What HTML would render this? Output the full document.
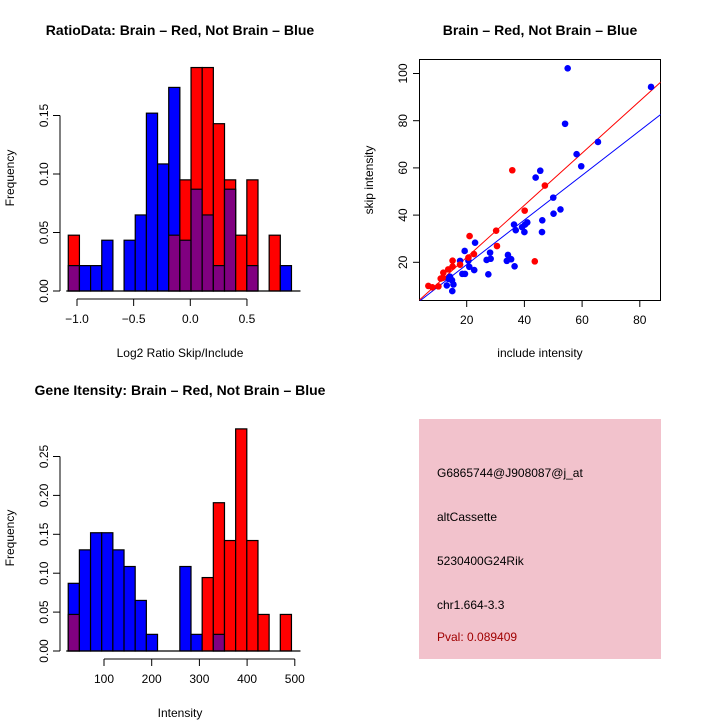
<!DOCTYPE html>
<html><head><meta charset="utf-8"><style>
body{margin:0;background:#fff}
svg{display:block;font-family:"Liberation Sans",sans-serif}
</style></head><body>
<svg id="s" width="720" height="720" viewBox="0 0 720 720">
<rect width="720" height="720" fill="#fff"/>
<text x="180" y="35" font-size="14" font-weight="bold" text-anchor="middle">RatioData: Brain – Red, Not Brain – Blue</text>
<text x="540" y="35" font-size="14" font-weight="bold" text-anchor="middle">Brain – Red, Not Brain – Blue</text>
<text x="180" y="395" font-size="14" font-weight="bold" text-anchor="middle">Gene Itensity: Brain – Red, Not Brain – Blue</text>
<text x="180" y="357" font-size="12" text-anchor="middle">Log2 Ratio Skip/Include</text>
<text x="14" y="178" font-size="12" text-anchor="middle" transform="rotate(-90 14 178)">Frequency</text>
<text x="180" y="717" font-size="12" text-anchor="middle">Intensity</text>
<text x="14" y="538" font-size="12" text-anchor="middle" transform="rotate(-90 14 538)">Frequency</text>
<text x="540" y="357" font-size="12" text-anchor="middle">include intensity</text>
<text x="373" y="180" font-size="12" text-anchor="middle" transform="rotate(-90 373 180)">skip intensity</text>
<g>
<rect x="419" y="419" width="242" height="240" fill="#f2c2cc"/>
<g font-size="12">
<text x="437" y="477">G6865744@J908087@j_at</text>
<text x="437" y="521">altCassette</text>
<text x="437" y="565">5230400G24Rik</text>
<text x="437" y="609">chr1.664-3.3</text>
<text x="437" y="641" fill="#a00000">Pval: 0.089409</text>
</g></g>
</svg>
<script>
// Ratio histogram data
const ratioBreakStart = -1.077, ratioBinW = 0.0985;
const ratioRed  = [0.0477,0,0,0,0,0,0,0,0,0.0477,0.095,0.191,0.191,0.143,0.095,0.0477,0.095,0,0.0477,0];
const ratioBlue = [0.0217,0.0217,0.0217,0.0434,0,0.0434,0.065,0.152,0.1086,0.174,0.0434,0.087,0.065,0.0217,0.087,0,0.0217,0,0,0.0217];
const ratioXTicks = [-1.0,-0.5,0.0,0.5];
const ratioXLabels = ["−1.0","−0.5","0.0","0.5"];
const ratioYTicks = [0,0.05,0.10,0.15];
const ratioYLabels = ["0.00","0.05","0.10","0.15"];
// Intensity histogram data
const intBreakStart = 25, intBinW = 23.4;
const intRed  = [0.047,0,0,0,0,0,0,0,0,0,0,0,0.0944,0.1906,0.142,0.2855,0.142,0.047,0,0.047];
const intBlue = [0.087,0.130,0.152,0.152,0.130,0.1086,0.065,0.0214,0,0,0.1086,0.0214,0,0.0214,0,0,0,0,0,0];
const intXTicks = [100,200,300,400,500];
const intYTicks = [0,0.05,0.10,0.15,0.20,0.25];
const intYLabels = ["0.00","0.05","0.10","0.15","0.20","0.25"];
// Scatter data
const blueX = [55.0,83.9,54.1,65.5,58.1,59.7,45.5,43.9,50.0,52.5,50.1,46.2,46.1,41.0,40.2,39.2,40.0,36.4,37.0,22.9,19.3,17.7,20.6,20.9,22.6,18.5,19.4,28.1,28.3,26.9,27.5,34.3,33.9,35.4,36.6,14.2,13.1,15.4,14.9,15.0,13.6];
const blueY = [102.2,94.3,78.7,71.0,65.8,60.7,58.8,55.9,47.4,42.4,40.6,37.8,32.8,36.9,36.0,34.9,32.8,36.0,33.6,28.3,24.8,20.6,20.7,18.1,16.7,15.1,15.1,24.1,21.5,21.0,14.9,23.1,20.6,21.3,18.3,13.9,10.2,10.6,12.4,7.8,13.0];
const redX = [35.8,47.1,40.1,30.2,21.0,30.5,22.5,20.6,43.6,17.7,15.1,15.1,13.6,11.9,11.7,11.0,10.2,8.1,6.7];
const redY = [59.0,52.5,41.9,33.4,31.1,26.9,23.5,22.0,20.4,19.0,20.7,18.2,17.0,15.6,13.4,13.1,9.8,9.4,10.0];
const scXTicks = [20,40,60,80];
const scYTicks = [20,40,60,80,100];
const redFit = [0.03,1.104];
const blueFit = [0.1,0.946];

const svg = document.getElementById('s');
const NS = 'http://www.w3.org/2000/svg';
function mk(tag, attrs, parent){const e=document.createElementNS(NS,tag);for(const k in attrs)e.setAttribute(k,attrs[k]);(parent||svg).appendChild(e);return e;}

function hist(opts){
  const g = mk('g',{});
  
  
  const xs = v => opts.x0 + (v - opts.xv0) * opts.xk;
  const ys = v => opts.y0 - v * opts.yk;
  for(let i=0;i<opts.red.length;i++){
    const a=opts.start+i*opts.w, b=a+opts.w, r=opts.red[i], bl=opts.blue[i];
    const x=xs(a), wd=xs(b)-xs(a);
    const hi=Math.max(r,bl), lo=Math.min(r,bl);
    if(hi>0){
      const rc = mk('rect',{x:x,y:ys(hi),width:wd,height:ys(0)-ys(hi),fill:r>=bl?'#ff0000':'#0000ff',stroke:'#000','stroke-width':1.2},g);
      
      
    }
    if(lo>0){
      const pc = mk('rect',{x:x,y:ys(lo),width:wd,height:ys(0)-ys(lo),fill:'#800080',stroke:'#000','stroke-width':1.2},g);
      
      
    }
  }
  // y axis
  const yt=opts.yTicks;
  mk('line',{x1:opts.yAxisX,x2:opts.yAxisX,y1:ys(yt[0]),y2:ys(yt[yt.length-1]),stroke:'#000'},g);
  yt.forEach((t,i)=>{const y=ys(t);mk('line',{x1:opts.yAxisX-7,x2:opts.yAxisX,y1:y,y2:y,stroke:'#000'},g);
    const tx=mk('text',{x:opts.yAxisX-12,y:y,'font-size':12,'text-anchor':'middle',transform:`rotate(-90 ${opts.yAxisX-12} ${y})`},g);tx.textContent=opts.yLabels[i];
    
    });
  // x axis
  const xt=opts.xTicks;
  mk('line',{x1:xs(xt[0]),x2:xs(xt[xt.length-1]),y1:opts.xAxisY,y2:opts.xAxisY,stroke:'#000'},g);
  xt.forEach((t,i)=>{const x=xs(t);mk('line',{x1:x,x2:x,y1:opts.xAxisY,y2:opts.xAxisY+7,stroke:'#000'},g);
    const tx=mk('text',{x:x,y:opts.xAxisY+24,'font-size':12,'text-anchor':'middle'},g);tx.textContent=opts.xLabels[i];
    
    });
  mk('line',{x1:xs(opts.start)-2,x2:xs(opts.start+opts.red.length*opts.w)+9,y1:ys(0),y2:ys(0),stroke:'#000','stroke-width':1.3},g);
}
hist({name:'ratio-histogram',red:ratioRed,blue:ratioBlue,start:ratioBreakStart,w:ratioBinW,x0:190.3,xv0:0,xk:113.3,y0:291,yk:1170,
  yTicks:ratioYTicks,yLabels:ratioYLabels,xTicks:ratioXTicks,xLabels:ratioXLabels,yAxisX:60,xAxisY:299});
hist({name:'intensity-histogram',red:intRed,blue:intBlue,start:intBreakStart,w:intBinW,x0:104,xv0:100,xk:0.477,y0:651,yk:778,
  yTicks:intYTicks,yLabels:intYLabels,xTicks:intXTicks,xLabels:intXTicks.map(String),yAxisX:60,xAxisY:659});

// scatter
const sg = mk('g',{});


const sx = v => 409 + v*2.885, sy = v => 309.5 - v*2.36;
mk('defs',{},sg).innerHTML='<clipPath id="c"><rect x="419.5" y="59.5" width="241" height="241"/></clipPath>';
mk('rect',{x:419.5,y:59.5,width:241,height:241,fill:'none',stroke:'#000'},sg);
scXTicks.forEach(t=>{const x=sx(t);mk('line',{x1:x,x2:x,y1:300.5,y2:307,stroke:'#000'},sg);
  const tx=mk('text',{x:x,y:324,'font-size':12,'text-anchor':'middle'},sg);tx.textContent=t;
  
  });
scYTicks.forEach(t=>{const y=sy(t);mk('line',{x1:413,x2:419.5,y1:y,y2:y,stroke:'#000'},sg);
  const tx=mk('text',{x:407,y:y,'font-size':12,'text-anchor':'middle',transform:`rotate(-90 407 ${y})`},sg);tx.textContent=t;
  
  });
const lg = mk('g',{'clip-path':'url(#c)'},sg);
[[redFit,'#ff0000','brain-fit-line'],[blueFit,'#0000ff','not-brain-fit-line']].forEach(([f,c,n])=>{
  const l=mk('line',{x1:sx(0),y1:sy(f[0]),x2:sx(100),y2:sy(f[0]+f[1]*100),stroke:c,'stroke-width':1},lg);
  
  
});
blueX.forEach((v,i)=>{const p=mk('circle',{cx:sx(v),cy:sy(blueY[i]),r:3.3,fill:'#0000ff'},lg);
  
  });
redX.forEach((v,i)=>{const p=mk('circle',{cx:sx(v),cy:sy(redY[i]),r:3.3,fill:'#ff0000'},lg);
  
  });
</script>
</body></html>
